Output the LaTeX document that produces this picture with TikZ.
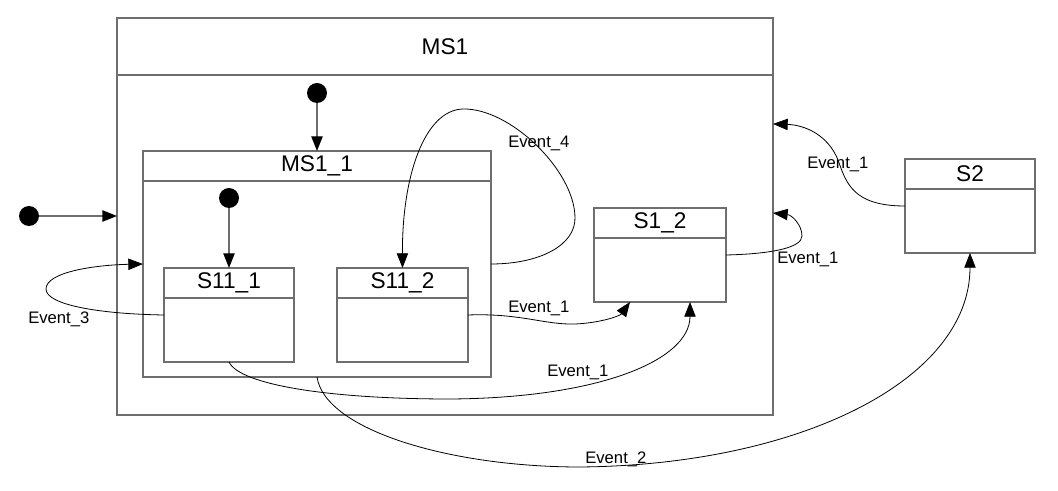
\documentclass[tikz,border=0pt]{standalone}
\usepackage{fontspec}
\setmainfont{Liberation Sans}
\usetikzlibrary{arrows.meta,calc}
\definecolor{boxgrey}{HTML}{6E6E6E}
\tikzset{
  statebox/.style={draw=boxgrey, line width=1.1pt, rectangle, inner sep=0pt, outer sep=0pt},
  boxline/.style={draw=boxgrey, line width=1.1pt},
  titletext/.style={font=\fontsize{17}{20}\selectfont, inner sep=0pt},
  lbl/.style={font=\fontsize{12.5}{14}\selectfont, inner sep=0pt, anchor=base west},
  trans/.style={draw=black, line width=0.6pt, -{Triangle[length=11pt,width=8.5pt]}},
  initarrow/.style={draw=boxgrey, line width=1pt, -{Triangle[length=11pt,width=8.5pt,color=black]}},
  initdot/.style={circle, fill=black, minimum size=15pt, inner sep=0pt},
}
\begin{document}
\begin{tikzpicture}[x=0.75pt,y=-0.75pt]
\useasboundingbox (0,0) rectangle (1058,491);

% boxes
\node[statebox, minimum width=492pt, minimum height=297.75pt] (ms1) at (445,216.5) {};
\draw[boxline] ([yshift=-42.75pt]ms1.north west) -- ([yshift=-42.75pt]ms1.north east);
\node[titletext] (ms1t) at ([yshift=-21.4pt]ms1.north) {MS1};

\node[statebox, minimum width=261pt, minimum height=169.5pt] (ms11) at (317,264) {};
\draw[boxline] ([yshift=-22.5pt]ms11.north west) -- ([yshift=-22.5pt]ms11.north east);
\node[titletext] (ms11t) at ([yshift=-11.25pt]ms11.north) {MS1\_1};

\node[statebox, minimum width=97.5pt, minimum height=70.5pt] (s111) at (229,315) {};
\draw[boxline] ([yshift=-22.5pt]s111.north west) -- ([yshift=-22.5pt]s111.north east);
\node[titletext] (s111t) at ([yshift=-11.25pt]s111.north) {S11\_1};

\node[statebox, minimum width=98.25pt, minimum height=70.5pt] (s112) at (402.5,315) {};
\draw[boxline] ([yshift=-22.5pt]s112.north west) -- ([yshift=-22.5pt]s112.north east);
\node[titletext] (s112t) at ([yshift=-11.25pt]s112.north) {S11\_2};

\node[statebox, minimum width=99pt, minimum height=70.5pt] (s12) at (660,255) {};
\draw[boxline] ([yshift=-22.5pt]s12.north west) -- ([yshift=-22.5pt]s12.north east);
\node[titletext] (s12t) at ([yshift=-11.25pt]s12.north) {S1\_2};

\node[statebox, minimum width=97.5pt, minimum height=70.5pt] (s2) at (970,206) {};
\draw[boxline] ([yshift=-22.5pt]s2.north west) -- ([yshift=-22.5pt]s2.north east);
\node[titletext] (s2t) at ([yshift=-11.25pt]s2.north) {S2};

% initial states
\node[initdot] (i1) at (29,216) {};
\node[initdot] (i2) at (317,93) {};
\node[initdot] (i3) at (229,198) {};
\draw[initarrow] (i1) -- (i1 -| ms1.west);
\draw[initarrow] (i2) -- (ms11.north);
\draw[initarrow] (i3) -- (s111.north);

% transitions
\draw[trans] (s111.west) .. controls (100,314) and (46,305) .. (46,289)
  .. controls (46,272) and (95,265) .. (ms11.west);
\node[lbl] (l3) at (28,324) {Event\_3};

\draw[trans] (ms11.east) .. controls (540,264) and (576,245) .. (575,217)
  .. controls (574,170) and (510,108) .. (463,109)
  .. controls (425,110) and (402,175) .. (s112.north);
\node[lbl] (l4) at (508,148) {Event\_4};

\draw[trans] (s112.east) .. controls (520,313) and (545,325) .. (575,324)
  .. controls (600,323) and (620,316) .. ([xshift=-22.5pt]s12.south);
\node[lbl] (l1a) at (508,313) {Event\_1};

\draw[trans] (s111.south) .. controls (240,385) and (330,399) .. (450,399)
  .. controls (600,398) and (690,360) .. ([xshift=22.5pt]s12.south);
\node[lbl] (l1b) at (547,377) {Event\_1};

\draw[trans] (ms11.south) .. controls (325,430) and (450,467) .. (580,467)
  .. controls (800,465) and (970,380) .. (s2.south);
\node[lbl] (l2) at (585,464) {Event\_2};

\draw[trans] (s12.east) .. controls (770,254) and (802,248) .. (802,236)
  .. controls (802,225) and (792,215) .. ([yshift=2.6pt]ms1.east);
\node[lbl] (l1c) at (777,264) {Event\_1};

\draw[trans] (s2.west) .. controls (852,206) and (846,182) .. (838,160)
  .. controls (828,135) and (805,125) .. ([yshift=69.4pt]ms1.east);
\node[lbl] (l1d) at (807,169) {Event\_1};
\end{tikzpicture}
\end{document}
